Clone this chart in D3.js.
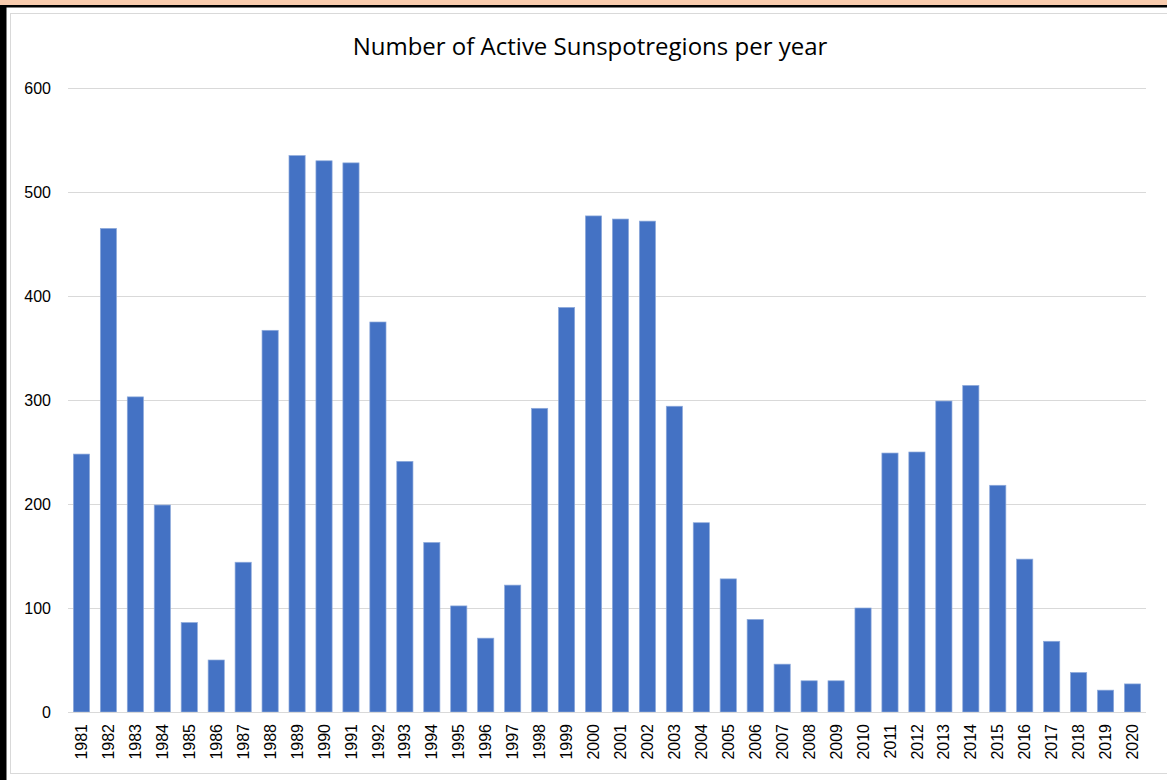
<!DOCTYPE html>
<html>
<head>
    <title>Number of Active Sunspotregions per year</title>
    <script src="https://d3js.org/d3.v7.min.js"></script>
    <style>
        body {
            margin: 0;
            background: #fff;
        }
        svg {
            display: block;
        }
        .grid line {
            stroke: #d9d9d9;
            stroke-width: 1px;
        }
        .tick-label {
            font-family: "Liberation Sans", Arial, sans-serif;
            font-size: 16px;
            fill: #000;
        }
    </style>
</head>
<body>
<div id="chart"></div>
<script>
    const years = ["1981", "1982", "1983", "1984", "1985", "1986", "1987", "1988", "1989", "1990",
        "1991", "1992", "1993", "1994", "1995", "1996", "1997", "1998", "1999", "2000",
        "2001", "2002", "2003", "2004", "2005", "2006", "2007", "2008", "2009", "2010",
        "2011", "2012", "2013", "2014", "2015", "2016", "2017", "2018", "2019", "2020"];
    const regions = [248, 465, 303, 199, 86, 50, 144, 367, 535, 530,
        528, 375, 241, 163, 102, 71, 122, 292, 389, 477,
        474, 472, 294, 182, 128, 89, 46, 30, 30, 100,
        249, 250, 299, 314, 218, 147, 68, 38, 21, 27];
    const yTicks = [0, 100, 200, 300, 400, 500, 600];
    const title = "Number of Active Sunspotregions per year";

    const width = 1167, height = 780;
    const plot = { left: 68, right: 1146, top: 88, bottom: 712 };

    const svg = d3.select("#chart")
        .append("svg")
        .attr("width", width)
        .attr("height", height);

    // page frame: orange band, black rules, light chart border
    svg.append("rect").attr("x", 0).attr("y", 0).attr("width", width).attr("height", 6).attr("fill", "#f8cbad");
    svg.append("rect").attr("x", 0).attr("y", 5).attr("width", width).attr("height", 2.5).attr("fill", "#000");
    svg.append("rect").attr("x", 0).attr("y", 5).attr("width", 6.5).attr("height", height).attr("fill", "#000");
    svg.append("rect")
        .attr("x", 10.5).attr("y", 13.5)
        .attr("width", width + 10).attr("height", 760)
        .attr("fill", "none")
        .attr("stroke", "#d9d9d9");

    const x = d3.scaleBand()
        .domain(years)
        .range([plot.left, plot.right])
        .paddingInner(0.4)
        .paddingOuter(0.2);

    const y = d3.scaleLinear()
        .domain([0, 600])
        .range([plot.bottom, plot.top]);

    // gridlines
    svg.append("g")
        .attr("class", "grid")
        .selectAll("line")
        .data(yTicks)
        .enter()
        .append("line")
        .attr("x1", plot.left)
        .attr("x2", plot.right)
        .attr("y1", d => Math.round(y(d)) + 0.5)
        .attr("y2", d => Math.round(y(d)) + 0.5);

    // y labels
    svg.append("g")
        .selectAll("text")
        .data(yTicks)
        .enter()
        .append("text")
        .attr("class", "tick-label")
        .attr("x", 51)
        .attr("y", d => y(d))
        .attr("dy", "0.35em")
        .attr("text-anchor", "end")
        .text(d => d);

    // bars
    svg.append("g")
        .selectAll("rect")
        .data(regions)
        .enter()
        .append("rect")
        .attr("x", (d, i) => x(years[i]))
        .attr("y", d => y(d))
        .attr("width", x.bandwidth())
        .attr("height", d => y(0) - y(d))
        .attr("fill", "#4472c4")
        .attr("stroke", "#8eaadb")
        .attr("stroke-width", 0.7);

    // x axis line
    svg.append("line")
        .attr("x1", plot.left)
        .attr("x2", plot.right)
        .attr("y1", plot.bottom + 0.5)
        .attr("y2", plot.bottom + 0.5)
        .attr("stroke", "#d9d9d9");

    // year labels, rotated
    svg.append("g")
        .selectAll("text")
        .data(years)
        .enter()
        .append("text")
        .attr("class", "tick-label")
        .attr("text-anchor", "end")
        .attr("dy", "0.35em")
        .attr("transform", d => `translate(${x(d) + x.bandwidth() / 2},${plot.bottom + 12}) rotate(-90)`)
        .text(d => d);

    svg.append("text")
        .attr("x", 590)
        .attr("y", 55)
        .attr("text-anchor", "middle")
        .style("font-family", "'Open Sans', sans-serif")
        .style("font-size", "24px")
        .style("fill", "#000")
        .text(title);
</script>
</body>
</html>
